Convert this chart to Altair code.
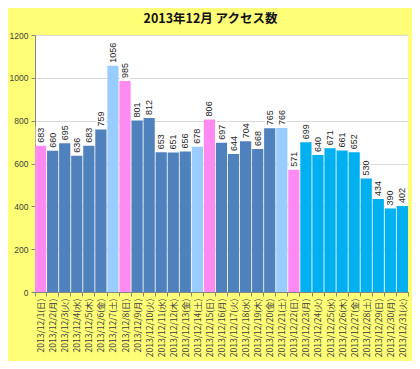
import altair as alt
import pandas as pd

# ---- data ----
days = list(range(1, 32))
weekdays = ["日", "月", "火", "水", "木", "金", "土"]  # 2013/12/1 was a Sunday
values = [683, 660, 695, 636, 683, 759, 1056, 985, 801, 812, 653, 651, 656, 678,
          806, 697, 644, 704, 668, 765, 766, 571, 699, 640, 671, 661, 652, 530,
          434, 390, 402]
groups = ["sun", "wd", "wd", "wd", "wd", "wd", "sat",
          "sun", "wd", "wd", "wd", "wd", "wd", "sat",
          "sun", "wd", "wd", "wd", "wd", "wd", "sat",
          "sun", "late", "late", "late", "late", "late", "late",
          "late", "late", "late"]
labels = [f"2013/12/{d}({weekdays[(d - 1) % 7]})" for d in days]

group_domain = ["sun", "sat", "wd", "late"]
group_colors = ["#FF8AF2", "#99CCFF", "#4F81BD", "#00B0F0"]

df = pd.DataFrame({"label": labels, "value": values, "group": groups})

x = alt.X("label:N", sort=labels, title=None,
          scale=alt.Scale(paddingInner=0.07, paddingOuter=0),
          axis=alt.Axis(labelAngle=270, labelFont="Noto Sans CJK JP", labelFontSize=8.5,
                        labelColor="#404040", labelPadding=2, labelOverlap=False,
                        labelLimit=0, tickBand="extent", tickSize=4,
                        tickColor="#868686", domainColor="#868686"))
y = alt.Y("value:Q", title=None,
          scale=alt.Scale(domain=[0, 1200], nice=False),
          axis=alt.Axis(values=[0, 200, 400, 600, 800, 1000, 1200], format="d",
                        labelFont="Liberation Sans", labelFontSize=8.5,
                        labelColor="#404040", labelPadding=3, tickSize=4,
                        tickColor="#868686", domainColor="#868686",
                        gridColor="#D9D9D9"))

bars = alt.Chart(df).mark_bar().encode(
    x=x, y=y,
    color=alt.Color("group:N", scale=alt.Scale(domain=group_domain, range=group_colors),
                    legend=None),
)

boxes = alt.Chart(df).mark_bar(color="white", width=10, yOffset=-1, y2Offset=-19).encode(
    x=alt.X("label:N", sort=labels),
    y="value:Q",
    y2="value:Q",
)

texts = alt.Chart(df).mark_text(angle=270, align="left", baseline="middle", dx=3,
                                fontSize=9, font="Liberation Sans", color="#222222").encode(
    x=alt.X("label:N", sort=labels),
    y="value:Q",
    text="value:Q",
)

chart = alt.layer(bars, boxes, texts).properties(
    width=373, height=257,
    title=alt.TitleParams("2013年12月 アクセス数", font="Noto Sans CJK JP", fontSize=12.5,
                          fontWeight="bold", color="#111111", anchor="middle",
                          baseline="top", offset=6, dx=-11),
    background="#FFFF77",
    padding={"left": 27, "top": 27, "right": 4, "bottom": 69},
    autosize=alt.AutoSizeParams(type="none"),
).configure_view(fill="white", stroke=None)

chart.save("out.html", embed_options={"renderer": "svg", "actions": False})
